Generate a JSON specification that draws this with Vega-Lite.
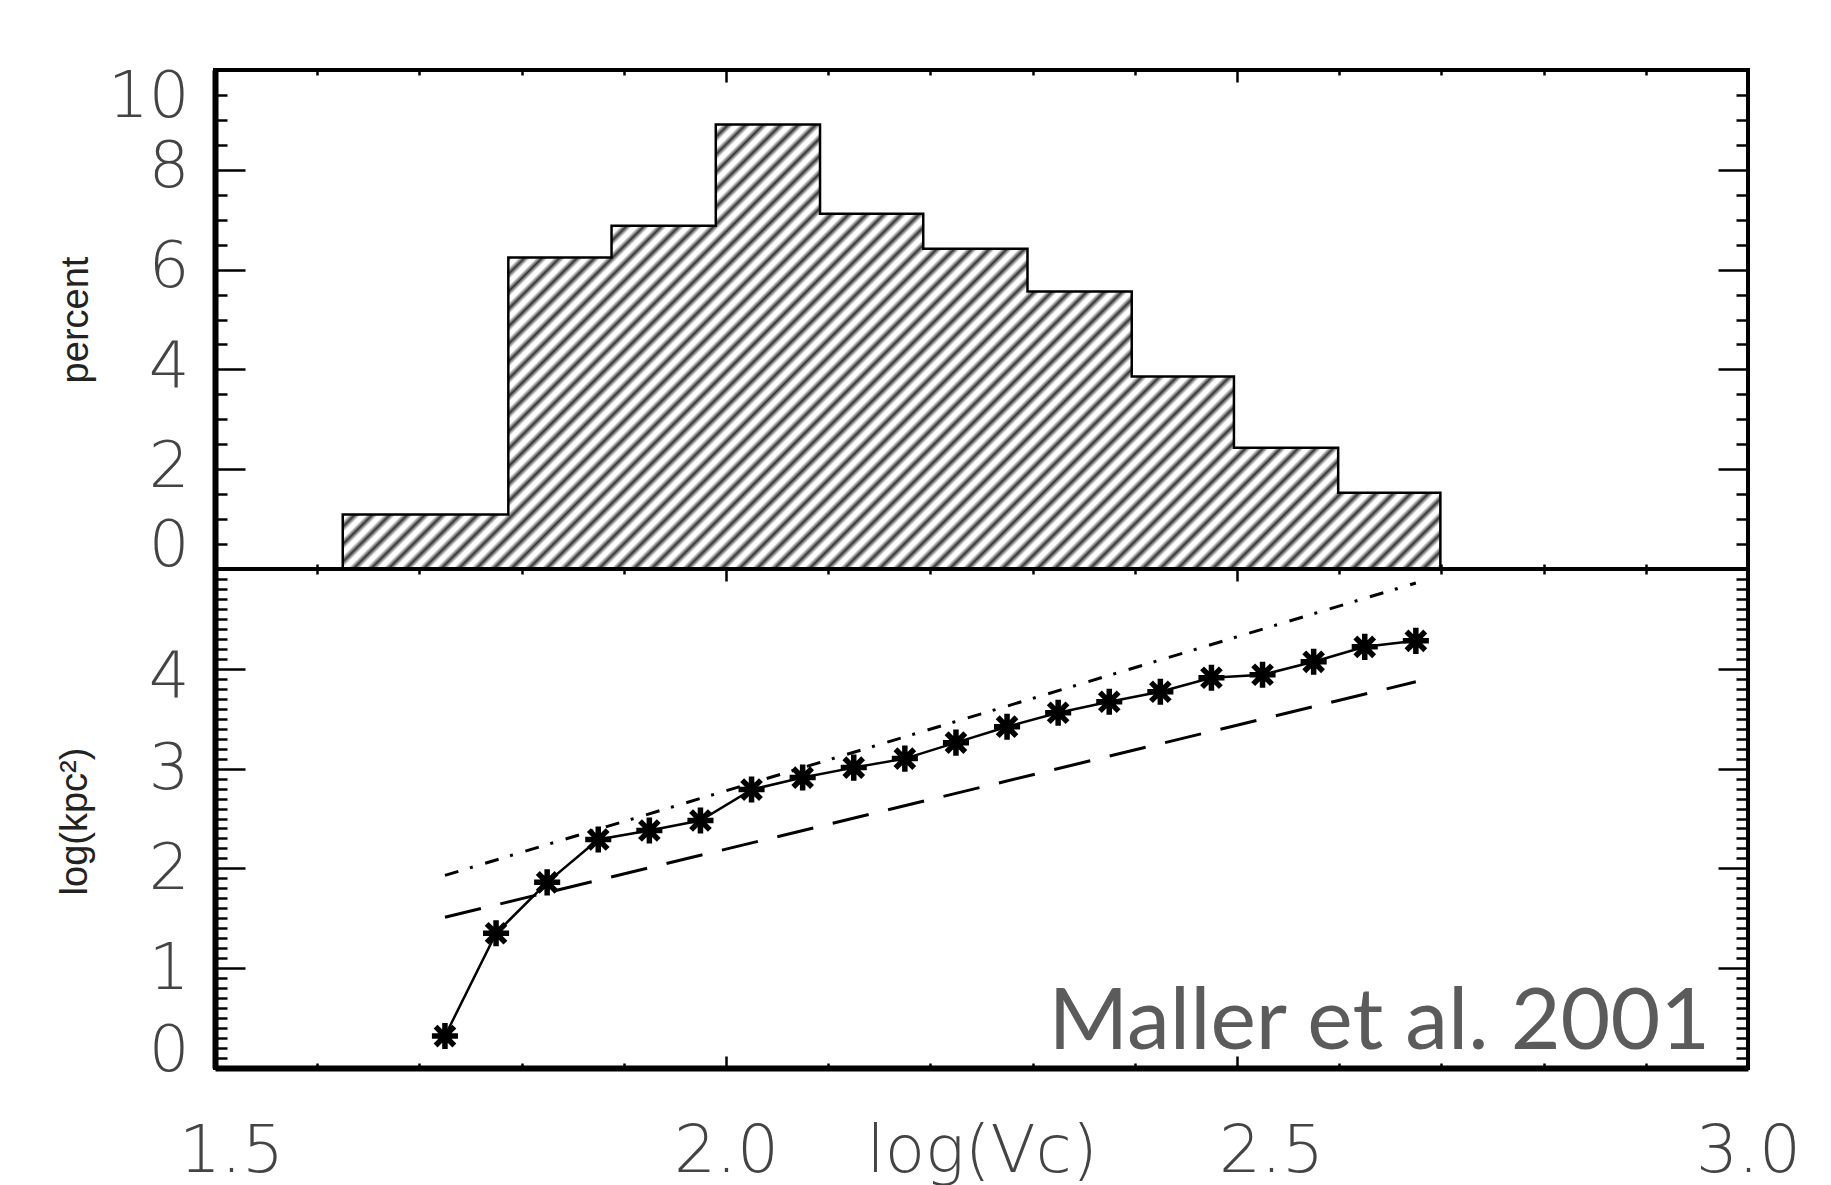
{
  "$schema": "https://vega.github.io/schema/vega-lite/v6.json",
  "background": "white",
  "padding": {"left": 54, "top": 58, "right": 10, "bottom": 2},
  "bounds": "flush",
  "spacing": 0,
  "config": {
    "view": {"stroke": "black", "strokeWidth": 4},
    "axis": {
      "grid": false, "domain": false, "tickColor": "black", "tickWidth": 2.5,
      "labelFont": "DejaVu Sans", "labelFontWeight": 200, "labelFontSize": 64, "labelColor": "#444",
      "labelOverlap": false, "labelFlush": false,
      "titleFont": "Liberation Sans", "titleFontWeight": "normal", "titleColor": "#222"
    }
  },
  "vconcat": [
    {
      "width": 1533, "height": 499,
      "data": {"values": [
        {"lo": 1.625, "hi": 1.787, "pct": 1.09},
        {"lo": 1.787, "hi": 1.888, "pct": 6.24},
        {"lo": 1.888, "hi": 1.99, "pct": 6.88},
        {"lo": 1.99, "hi": 2.092, "pct": 8.91},
        {"lo": 2.092, "hi": 2.193, "pct": 7.12},
        {"lo": 2.193, "hi": 2.295, "pct": 6.42},
        {"lo": 2.295, "hi": 2.397, "pct": 5.56},
        {"lo": 2.397, "hi": 2.497, "pct": 3.86},
        {"lo": 2.497, "hi": 2.599, "pct": 2.43},
        {"lo": 2.599, "hi": 2.699, "pct": 1.53}
      ]},
      "resolve": {"axis": {"x": "independent", "y": "independent"}},
      "layer": [
        {
          "transform": [{"fold": ["lo", "hi"], "as": ["edge", "logVc"]}],
          "mark": {"type": "area", "interpolate": "linear", "stroke": "black", "strokeWidth": 2.5,
            "fill": {"gradient": "linear", "x1": 0, "y1": 0, "x2": 1.207, "y2": 0.49, "stops": [
{"offset":0,"color":"#333"},{"offset":0.00398,"color":"#fff"},{"offset":0.00739,"color":"#fff"},
{"offset":0.01136,"color":"#333"},{"offset":0.01534,"color":"#fff"},{"offset":0.01875,"color":"#fff"},
{"offset":0.02273,"color":"#333"},{"offset":0.02671,"color":"#fff"},{"offset":0.03012,"color":"#fff"},
{"offset":0.03409,"color":"#333"},{"offset":0.03807,"color":"#fff"},{"offset":0.04148,"color":"#fff"},
{"offset":0.04545,"color":"#333"},{"offset":0.04943,"color":"#fff"},{"offset":0.05284,"color":"#fff"},
{"offset":0.05682,"color":"#333"},{"offset":0.0608,"color":"#fff"},{"offset":0.06421,"color":"#fff"},
{"offset":0.06818,"color":"#333"},{"offset":0.07216,"color":"#fff"},{"offset":0.07557,"color":"#fff"},
{"offset":0.07955,"color":"#333"},{"offset":0.08353,"color":"#fff"},{"offset":0.08694,"color":"#fff"},
{"offset":0.09091,"color":"#333"},{"offset":0.09489,"color":"#fff"},{"offset":0.0983,"color":"#fff"},
{"offset":0.10227,"color":"#333"},{"offset":0.10625,"color":"#fff"},{"offset":0.10966,"color":"#fff"},
{"offset":0.11364,"color":"#333"},{"offset":0.11762,"color":"#fff"},{"offset":0.12103,"color":"#fff"},
{"offset":0.125,"color":"#333"},{"offset":0.12898,"color":"#fff"},{"offset":0.13239,"color":"#fff"},
{"offset":0.13636,"color":"#333"},{"offset":0.14034,"color":"#fff"},{"offset":0.14375,"color":"#fff"},
{"offset":0.14773,"color":"#333"},{"offset":0.15171,"color":"#fff"},{"offset":0.15512,"color":"#fff"},
{"offset":0.15909,"color":"#333"},{"offset":0.16307,"color":"#fff"},{"offset":0.16648,"color":"#fff"},
{"offset":0.17045,"color":"#333"},{"offset":0.17443,"color":"#fff"},{"offset":0.17784,"color":"#fff"},
{"offset":0.18182,"color":"#333"},{"offset":0.1858,"color":"#fff"},{"offset":0.18921,"color":"#fff"},
{"offset":0.19318,"color":"#333"},{"offset":0.19716,"color":"#fff"},{"offset":0.20057,"color":"#fff"},
{"offset":0.20455,"color":"#333"},{"offset":0.20853,"color":"#fff"},{"offset":0.21194,"color":"#fff"},
{"offset":0.21591,"color":"#333"},{"offset":0.21989,"color":"#fff"},{"offset":0.2233,"color":"#fff"},
{"offset":0.22727,"color":"#333"},{"offset":0.23125,"color":"#fff"},{"offset":0.23466,"color":"#fff"},
{"offset":0.23864,"color":"#333"},{"offset":0.24262,"color":"#fff"},{"offset":0.24603,"color":"#fff"},
{"offset":0.25,"color":"#333"},{"offset":0.25398,"color":"#fff"},{"offset":0.25739,"color":"#fff"},
{"offset":0.26136,"color":"#333"},{"offset":0.26534,"color":"#fff"},{"offset":0.26875,"color":"#fff"},
{"offset":0.27273,"color":"#333"},{"offset":0.27671,"color":"#fff"},{"offset":0.28012,"color":"#fff"},
{"offset":0.28409,"color":"#333"},{"offset":0.28807,"color":"#fff"},{"offset":0.29148,"color":"#fff"},
{"offset":0.29545,"color":"#333"},{"offset":0.29943,"color":"#fff"},{"offset":0.30284,"color":"#fff"},
{"offset":0.30682,"color":"#333"},{"offset":0.3108,"color":"#fff"},{"offset":0.31421,"color":"#fff"},
{"offset":0.31818,"color":"#333"},{"offset":0.32216,"color":"#fff"},{"offset":0.32557,"color":"#fff"},
{"offset":0.32955,"color":"#333"},{"offset":0.33353,"color":"#fff"},{"offset":0.33694,"color":"#fff"},
{"offset":0.34091,"color":"#333"},{"offset":0.34489,"color":"#fff"},{"offset":0.3483,"color":"#fff"},
{"offset":0.35227,"color":"#333"},{"offset":0.35625,"color":"#fff"},{"offset":0.35966,"color":"#fff"},
{"offset":0.36364,"color":"#333"},{"offset":0.36762,"color":"#fff"},{"offset":0.37103,"color":"#fff"},
{"offset":0.375,"color":"#333"},{"offset":0.37898,"color":"#fff"},{"offset":0.38239,"color":"#fff"},
{"offset":0.38636,"color":"#333"},{"offset":0.39034,"color":"#fff"},{"offset":0.39375,"color":"#fff"},
{"offset":0.39773,"color":"#333"},{"offset":0.40171,"color":"#fff"},{"offset":0.40512,"color":"#fff"},
{"offset":0.40909,"color":"#333"},{"offset":0.41307,"color":"#fff"},{"offset":0.41648,"color":"#fff"},
{"offset":0.42045,"color":"#333"},{"offset":0.42443,"color":"#fff"},{"offset":0.42784,"color":"#fff"},
{"offset":0.43182,"color":"#333"},{"offset":0.4358,"color":"#fff"},{"offset":0.43921,"color":"#fff"},
{"offset":0.44318,"color":"#333"},{"offset":0.44716,"color":"#fff"},{"offset":0.45057,"color":"#fff"},
{"offset":0.45455,"color":"#333"},{"offset":0.45853,"color":"#fff"},{"offset":0.46194,"color":"#fff"},
{"offset":0.46591,"color":"#333"},{"offset":0.46989,"color":"#fff"},{"offset":0.4733,"color":"#fff"},
{"offset":0.47727,"color":"#333"},{"offset":0.48125,"color":"#fff"},{"offset":0.48466,"color":"#fff"},
{"offset":0.48864,"color":"#333"},{"offset":0.49262,"color":"#fff"},{"offset":0.49603,"color":"#fff"},
{"offset":0.5,"color":"#333"},{"offset":0.50398,"color":"#fff"},{"offset":0.50739,"color":"#fff"},
{"offset":0.51136,"color":"#333"},{"offset":0.51534,"color":"#fff"},{"offset":0.51875,"color":"#fff"},
{"offset":0.52273,"color":"#333"},{"offset":0.52671,"color":"#fff"},{"offset":0.53012,"color":"#fff"},
{"offset":0.53409,"color":"#333"},{"offset":0.53807,"color":"#fff"},{"offset":0.54148,"color":"#fff"},
{"offset":0.54545,"color":"#333"},{"offset":0.54943,"color":"#fff"},{"offset":0.55284,"color":"#fff"},
{"offset":0.55682,"color":"#333"},{"offset":0.5608,"color":"#fff"},{"offset":0.56421,"color":"#fff"},
{"offset":0.56818,"color":"#333"},{"offset":0.57216,"color":"#fff"},{"offset":0.57557,"color":"#fff"},
{"offset":0.57955,"color":"#333"},{"offset":0.58353,"color":"#fff"},{"offset":0.58694,"color":"#fff"},
{"offset":0.59091,"color":"#333"},{"offset":0.59489,"color":"#fff"},{"offset":0.5983,"color":"#fff"},
{"offset":0.60227,"color":"#333"},{"offset":0.60625,"color":"#fff"},{"offset":0.60966,"color":"#fff"},
{"offset":0.61364,"color":"#333"},{"offset":0.61762,"color":"#fff"},{"offset":0.62103,"color":"#fff"},
{"offset":0.625,"color":"#333"},{"offset":0.62898,"color":"#fff"},{"offset":0.63239,"color":"#fff"},
{"offset":0.63636,"color":"#333"},{"offset":0.64034,"color":"#fff"},{"offset":0.64375,"color":"#fff"},
{"offset":0.64773,"color":"#333"},{"offset":0.65171,"color":"#fff"},{"offset":0.65512,"color":"#fff"},
{"offset":0.65909,"color":"#333"},{"offset":0.66307,"color":"#fff"},{"offset":0.66648,"color":"#fff"},
{"offset":0.67045,"color":"#333"},{"offset":0.67443,"color":"#fff"},{"offset":0.67784,"color":"#fff"},
{"offset":0.68182,"color":"#333"},{"offset":0.6858,"color":"#fff"},{"offset":0.68921,"color":"#fff"},
{"offset":0.69318,"color":"#333"},{"offset":0.69716,"color":"#fff"},{"offset":0.70057,"color":"#fff"},
{"offset":0.70455,"color":"#333"},{"offset":0.70853,"color":"#fff"},{"offset":0.71194,"color":"#fff"},
{"offset":0.71591,"color":"#333"},{"offset":0.71989,"color":"#fff"},{"offset":0.7233,"color":"#fff"},
{"offset":0.72727,"color":"#333"},{"offset":0.73125,"color":"#fff"},{"offset":0.73466,"color":"#fff"},
{"offset":0.73864,"color":"#333"},{"offset":0.74262,"color":"#fff"},{"offset":0.74603,"color":"#fff"},
{"offset":0.75,"color":"#333"},{"offset":0.75398,"color":"#fff"},{"offset":0.75739,"color":"#fff"},
{"offset":0.76136,"color":"#333"},{"offset":0.76534,"color":"#fff"},{"offset":0.76875,"color":"#fff"},
{"offset":0.77273,"color":"#333"},{"offset":0.77671,"color":"#fff"},{"offset":0.78012,"color":"#fff"},
{"offset":0.78409,"color":"#333"},{"offset":0.78807,"color":"#fff"},{"offset":0.79148,"color":"#fff"},
{"offset":0.79545,"color":"#333"},{"offset":0.79943,"color":"#fff"},{"offset":0.80284,"color":"#fff"},
{"offset":0.80682,"color":"#333"},{"offset":0.8108,"color":"#fff"},{"offset":0.81421,"color":"#fff"},
{"offset":0.81818,"color":"#333"},{"offset":0.82216,"color":"#fff"},{"offset":0.82557,"color":"#fff"},
{"offset":0.82955,"color":"#333"},{"offset":0.83353,"color":"#fff"},{"offset":0.83694,"color":"#fff"},
{"offset":0.84091,"color":"#333"},{"offset":0.84489,"color":"#fff"},{"offset":0.8483,"color":"#fff"},
{"offset":0.85227,"color":"#333"},{"offset":0.85625,"color":"#fff"},{"offset":0.85966,"color":"#fff"},
{"offset":0.86364,"color":"#333"},{"offset":0.86762,"color":"#fff"},{"offset":0.87103,"color":"#fff"},
{"offset":0.875,"color":"#333"},{"offset":0.87898,"color":"#fff"},{"offset":0.88239,"color":"#fff"},
{"offset":0.88636,"color":"#333"},{"offset":0.89034,"color":"#fff"},{"offset":0.89375,"color":"#fff"},
{"offset":0.89773,"color":"#333"},{"offset":0.90171,"color":"#fff"},{"offset":0.90512,"color":"#fff"},
{"offset":0.90909,"color":"#333"},{"offset":0.91307,"color":"#fff"},{"offset":0.91648,"color":"#fff"},
{"offset":0.92045,"color":"#333"},{"offset":0.92443,"color":"#fff"},{"offset":0.92784,"color":"#fff"},
{"offset":0.93182,"color":"#333"},{"offset":0.9358,"color":"#fff"},{"offset":0.93921,"color":"#fff"},
{"offset":0.94318,"color":"#333"},{"offset":0.94716,"color":"#fff"},{"offset":0.95057,"color":"#fff"},
{"offset":0.95455,"color":"#333"},{"offset":0.95853,"color":"#fff"},{"offset":0.96194,"color":"#fff"},
{"offset":0.96591,"color":"#333"},{"offset":0.96989,"color":"#fff"},{"offset":0.9733,"color":"#fff"},
{"offset":0.97727,"color":"#333"},{"offset":0.98125,"color":"#fff"},{"offset":0.98466,"color":"#fff"},
{"offset":0.98864,"color":"#333"},{"offset":0.99262,"color":"#fff"},{"offset":0.99603,"color":"#fff"},
{"offset":1,"color":"#333"}
            ]}
          },
          "encoding": {
            "x": {"field": "logVc", "type": "quantitative",
              "scale": {"domain": [1.5, 3.0], "nice": false, "zero": false},
              "axis": {"orient": "bottom", "title": null, "labels": false,
                "values": [1.5,1.6,1.7,1.8,1.9,2.0,2.1,2.2,2.3,2.4,2.5,2.6,2.7,2.8,2.9,3.0],
                "tickSize": {"condition": {"test": "abs(datum.value*2 - round(datum.value*2)) < 0.001", "value": -12}, "value": -5}}},
            "y": {"field": "pct", "type": "quantitative", "stack": null,
              "scale": {"domain": [0, 10], "nice": false},
              "axis": {"orient": "left",
                "values": [0,0.5,1,1.5,2,2.5,3,3.5,4,4.5,5,5.5,6,6.5,7,7.5,8,8.5,9,9.5,10],
                "labelExpr": "abs(datum.value/2 - round(datum.value/2)) < 0.001 ? '' + round(datum.value) : ''",
                "tickSize": {"condition": {"test": "abs(datum.value/2 - round(datum.value/2)) < 0.001", "value": -30}, "value": -12},
                "labelPadding": 56,
                "labelBaseline": "middle",
                "labelOffset": {"condition": [{"test": "datum.value == 0", "value": -23}, {"test": "datum.value == 10", "value": 27}], "value": -2},
                "domain": true, "domainWidth": 6, "domainColor": "black",
                "title": "percent", "titleFontSize": 38, "titleX": -139, "titleY": 249.5, "titleAngle": -90,
                "titleAlign": "center", "titleBaseline": "middle"}}
          }
        },
        {
          "mark": {"type": "point", "opacity": 0},
          "encoding": {
            "x": {"field": "lo", "type": "quantitative",
              "axis": {"orient": "top", "title": null, "labels": false,
                "values": [1.5,1.6,1.7,1.8,1.9,2.0,2.1,2.2,2.3,2.4,2.5,2.6,2.7,2.8,2.9,3.0],
                "tickSize": {"condition": {"test": "abs(datum.value*2 - round(datum.value*2)) < 0.001", "value": -12}, "value": -5}}},
            "y": {"field": "pct", "type": "quantitative",
              "axis": {"orient": "right", "title": null, "labels": false,
                "values": [0,0.5,1,1.5,2,2.5,3,3.5,4,4.5,5,5.5,6,6.5,7,7.5,8,8.5,9,9.5,10],
                "tickSize": {"condition": {"test": "abs(datum.value/2 - round(datum.value/2)) < 0.001", "value": -30}, "value": -12}}}
          }
        }
      ]
    },
    {
      "width": 1533, "height": 499,
      "resolve": {"axis": {"x": "independent", "y": "independent"}},
      "layer": [
        {
          "data": {"name": "stars"},
          "mark": {"type": "line", "color": "black", "strokeWidth": 2.5},
          "encoding": {
            "x": {"field": "logVc", "type": "quantitative",
              "scale": {"domain": [1.5, 3.0], "nice": false, "zero": false},
              "axis": {"orient": "bottom",
                "values": [1.5,1.6,1.7,1.8,1.9,2.0,2.1,2.2,2.3,2.4,2.5,2.6,2.7,2.8,2.9,3.0],
                "labelExpr": "abs(datum.value*2 - round(datum.value*2)) < 0.001 ? format(datum.value, '.1f') : ''",
                "tickSize": {"condition": {"test": "abs(datum.value*2 - round(datum.value*2)) < 0.001", "value": -12}, "value": -5},
                "labelFontSize": 66,
                "labelPadding": 95, "labelBaseline": "middle",
                "labelOffset": {"condition": [{"test": "datum.value < 1.55", "value": 16}, {"test": "datum.value > 2.45 && datum.value < 2.55", "value": 34}], "value": 0},
                "domain": true, "domainWidth": 6, "domainColor": "black",
                "title": "log(Vc)", "titleFont": "DejaVu Sans", "titleFontWeight": 200, "titleFontSize": 66, "titleColor": "#444",
                "titleX": 766.5, "titleY": 83, "titleAlign": "center", "titleBaseline": "middle"}},
            "y": {"field": "logArea", "type": "quantitative",
              "scale": {"domain": [0, 5], "nice": false},
              "axis": {"orient": "left",
                "values": [0,0.1,0.2,0.3,0.4,0.5,0.6,0.7,0.8,0.9,1,1.1,1.2,1.3,1.4,1.5,1.6,1.7,1.8,1.9,2,2.1,2.2,2.3,2.4,2.5,2.6,2.7,2.8,2.9,3,3.1,3.2,3.3,3.4,3.5,3.6,3.7,3.8,3.9,4,4.1,4.2,4.3,4.4,4.5,4.6,4.7,4.8,4.9,5],
                "labelExpr": "abs(datum.value - round(datum.value)) < 0.001 && datum.value < 4.5 ? '' + round(datum.value) : ''",
                "tickSize": {"condition": {"test": "abs(datum.value - round(datum.value)) < 0.001", "value": -30}, "value": -12},
                "labelPadding": 56,
                "labelBaseline": "middle",
                "labelOffset": {"condition": [{"test": "datum.value == 0", "value": -17}, {"test": "datum.value == 4", "value": 9}], "value": 1},
                "domain": true, "domainWidth": 6, "domainColor": "black",
                "title": "log(kpc²)", "titleFontSize": 38, "titleX": -140, "titleY": 252, "titleAngle": -90,
                "titleAlign": "center", "titleBaseline": "middle"}}
          }
        },
        {
          "data": {"name": "stars"},
          "mark": {"type": "point", "shape": "M-1,0L1,0M0,-1L0,1M-0.72,-0.72L0.72,0.72M-0.72,0.72L0.72,-0.72", "filled": false, "stroke": "black", "strokeWidth": 5.5, "size": 680, "opacity": 1},
          "encoding": {
            "x": {"field": "logVc", "type": "quantitative", "axis": null},
            "y": {"field": "logArea", "type": "quantitative", "axis": null}
          }
        },
        {
          "data": {"values": [
            {"model": "dashdot", "logVc": 1.725, "logArea": 1.93},
            {"model": "dashdot", "logVc": 2.675, "logArea": 4.86},
            {"model": "dashed", "logVc": 1.725, "logArea": 1.51},
            {"model": "dashed", "logVc": 2.675, "logArea": 3.87}
          ]},
          "mark": {"type": "line", "color": "black", "strokeWidth": 3},
          "encoding": {
            "x": {"field": "logVc", "type": "quantitative", "axis": null},
            "y": {"field": "logArea", "type": "quantitative", "axis": null},
            "strokeDash": {"field": "model", "type": "nominal", "legend": null,
              "scale": {"domain": ["dashdot", "dashed"], "range": [[14, 12, 3, 13], [37, 20]]}}
          }
        },
        {
          "data": {"values": [{"label": "Maller et al. 2001"}]},
          "mark": {"type": "text", "align": "right", "baseline": "alphabetic", "font": "Lato", "fontSize": 86, "color": "#5b5b5b"},
          "encoding": {
            "x": {"datum": 2.963, "type": "quantitative", "axis": null},
            "y": {"datum": 0.19, "type": "quantitative", "axis": null},
            "text": {"field": "label"}
          }
        },
        {
          "data": {"name": "stars"},
          "mark": {"type": "point", "opacity": 0},
          "encoding": {
            "x": {"field": "logVc", "type": "quantitative",
              "axis": {"orient": "top", "title": null, "labels": false,
                "values": [1.5,1.6,1.7,1.8,1.9,2.0,2.1,2.2,2.3,2.4,2.5,2.6,2.7,2.8,2.9,3.0],
                "tickSize": {"condition": {"test": "abs(datum.value*2 - round(datum.value*2)) < 0.001", "value": -12}, "value": -5}}},
            "y": {"field": "logArea", "type": "quantitative",
              "axis": {"orient": "right", "title": null, "labels": false,
                "values": [0,0.1,0.2,0.3,0.4,0.5,0.6,0.7,0.8,0.9,1,1.1,1.2,1.3,1.4,1.5,1.6,1.7,1.8,1.9,2,2.1,2.2,2.3,2.4,2.5,2.6,2.7,2.8,2.9,3,3.1,3.2,3.3,3.4,3.5,3.6,3.7,3.8,3.9,4,4.1,4.2,4.3,4.4,4.5,4.6,4.7,4.8,4.9,5],
                "tickSize": {"condition": {"test": "abs(datum.value - round(datum.value)) < 0.001", "value": -30}, "value": -12}}}
          }
        }
      ]
    }
  ],
  "datasets": {
    "stars": [
      {"logVc": 1.725, "logArea": 0.32},
      {"logVc": 1.775, "logArea": 1.35},
      {"logVc": 1.825, "logArea": 1.86},
      {"logVc": 1.875, "logArea": 2.29},
      {"logVc": 1.925, "logArea": 2.38},
      {"logVc": 1.975, "logArea": 2.48},
      {"logVc": 2.025, "logArea": 2.79},
      {"logVc": 2.075, "logArea": 2.91},
      {"logVc": 2.125, "logArea": 3.01},
      {"logVc": 2.175, "logArea": 3.1},
      {"logVc": 2.225, "logArea": 3.26},
      {"logVc": 2.275, "logArea": 3.42},
      {"logVc": 2.325, "logArea": 3.56},
      {"logVc": 2.375, "logArea": 3.67},
      {"logVc": 2.425, "logArea": 3.77},
      {"logVc": 2.475, "logArea": 3.91},
      {"logVc": 2.525, "logArea": 3.94},
      {"logVc": 2.575, "logArea": 4.07},
      {"logVc": 2.625, "logArea": 4.22},
      {"logVc": 2.675, "logArea": 4.28}
    ]
  }
}
